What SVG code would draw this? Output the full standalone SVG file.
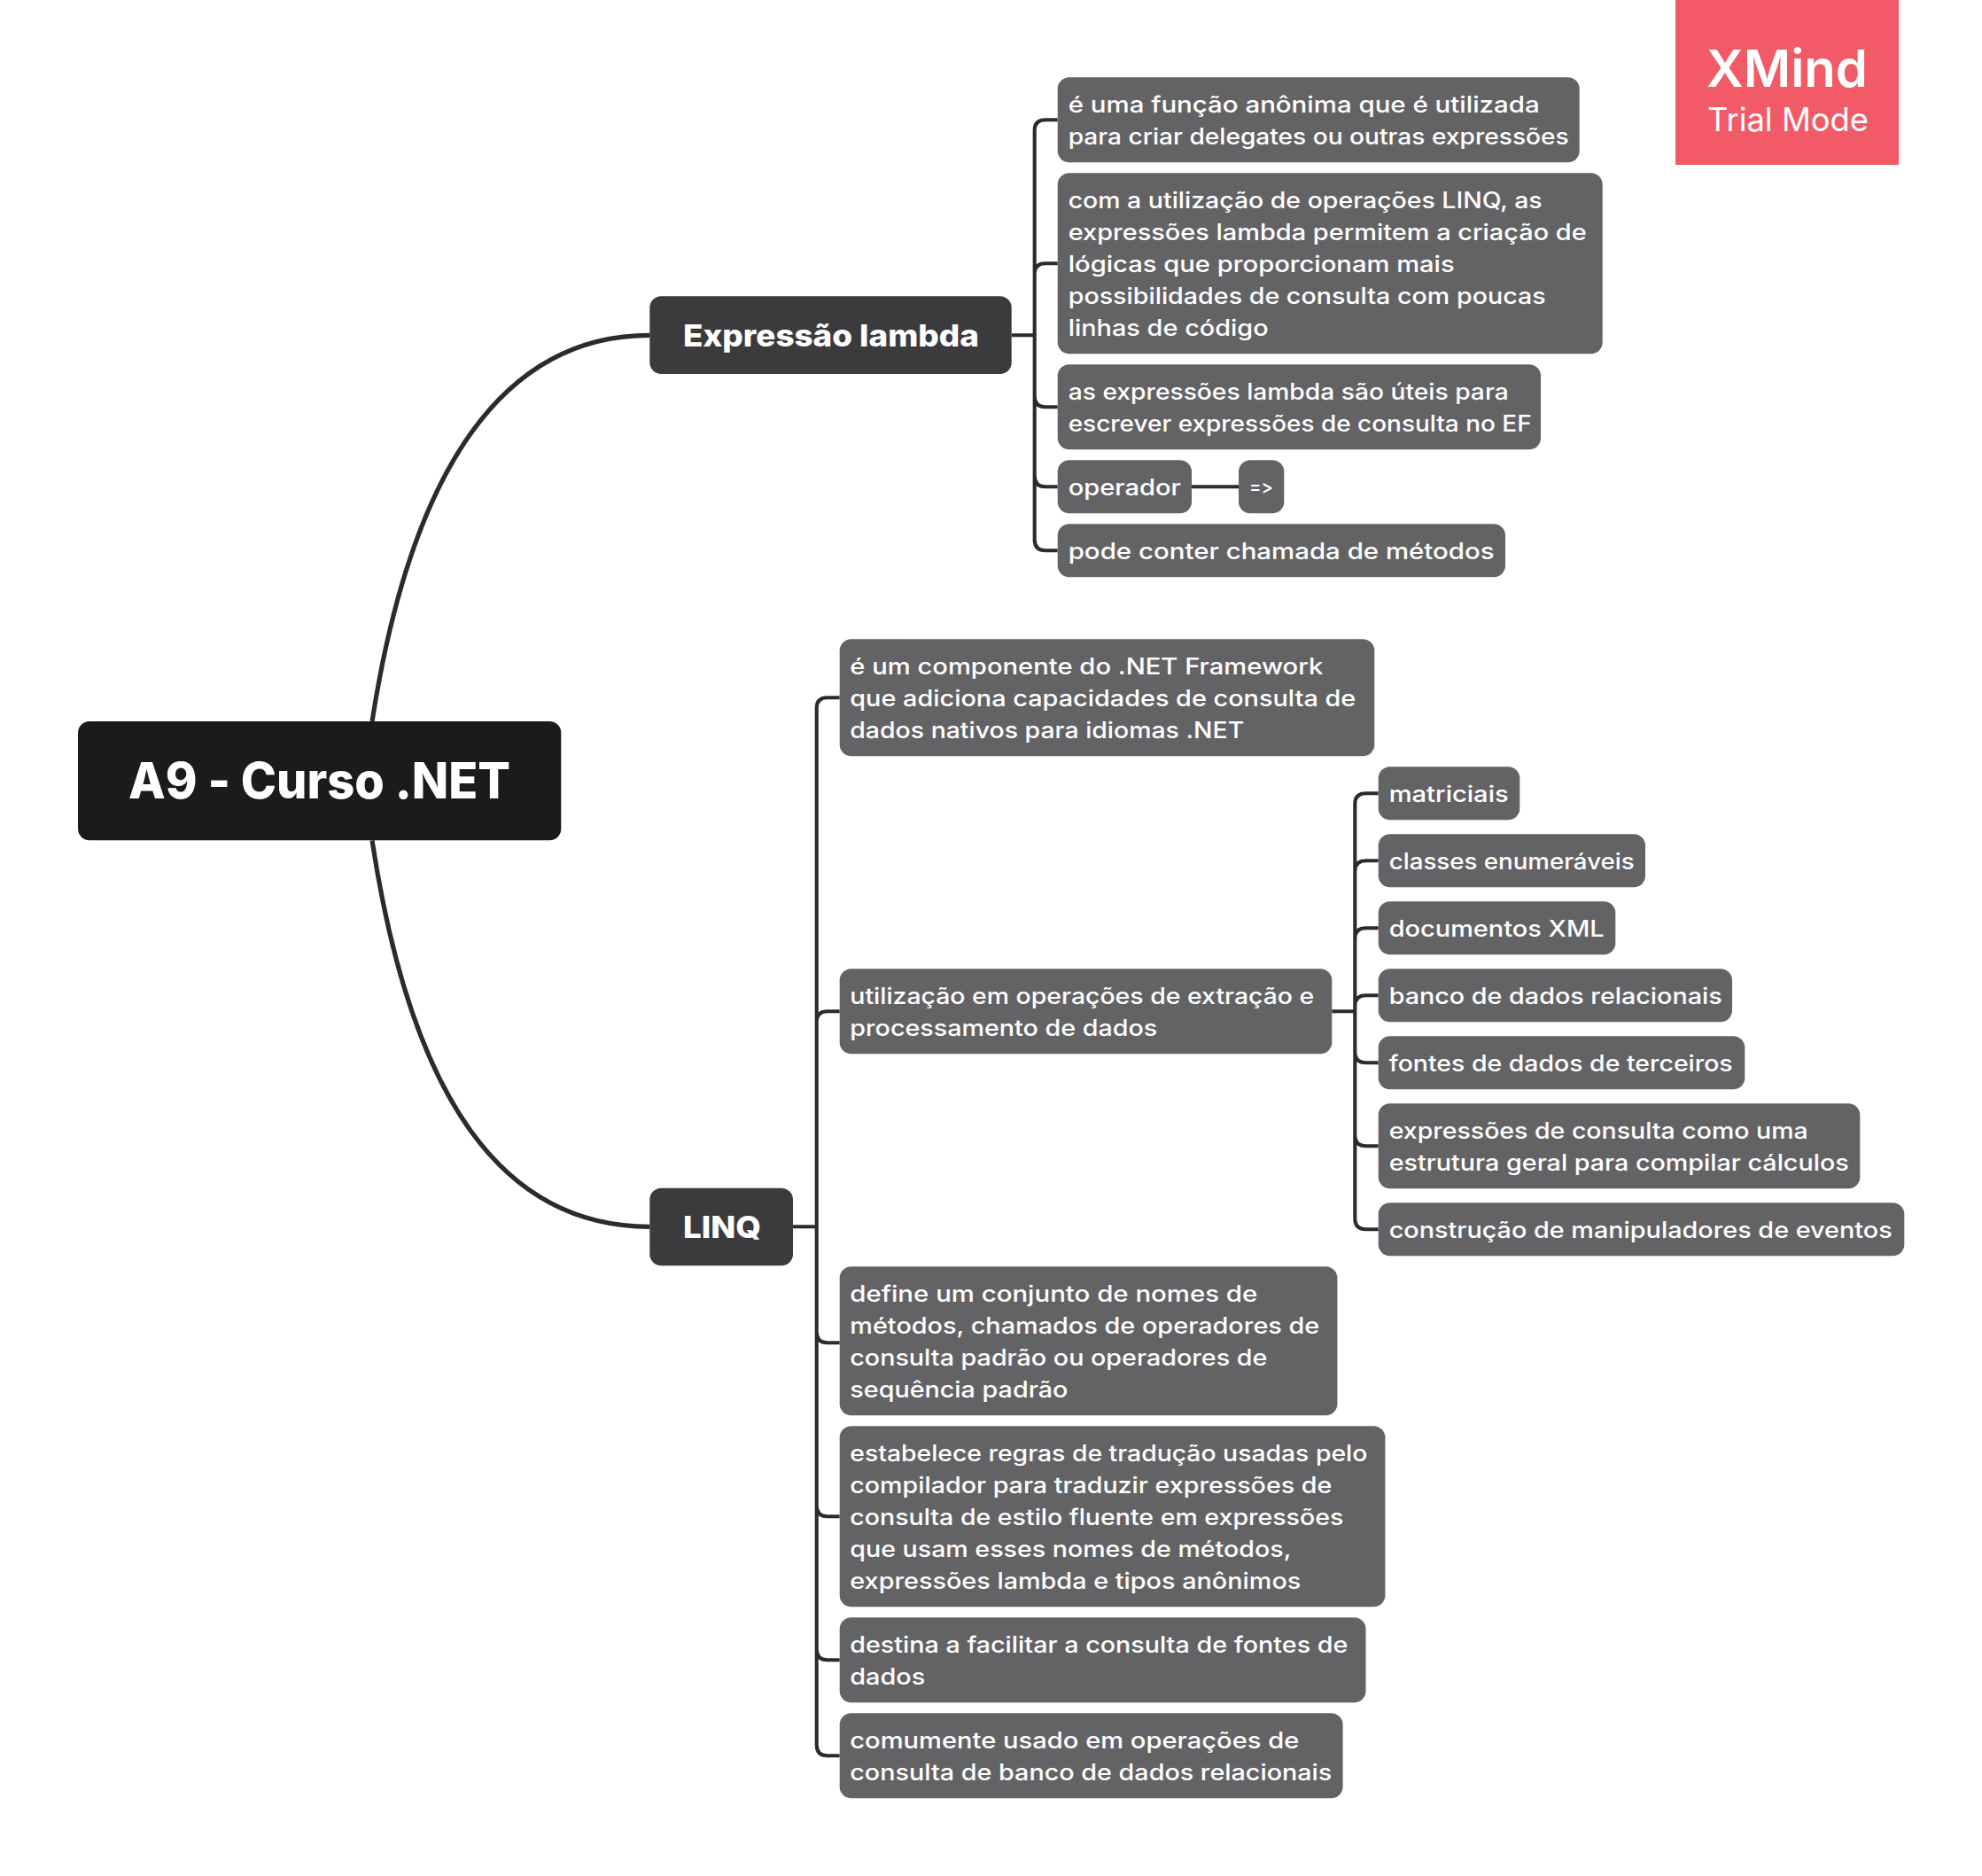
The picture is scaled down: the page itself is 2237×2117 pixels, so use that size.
<svg xmlns="http://www.w3.org/2000/svg" width="2237" height="2117" viewBox="0 0 2237 2117">
<style>
text{font-family:"Inter","Noto Sans","Liberation Sans",sans-serif;fill:#fff;font-variant-ligatures:none;font-feature-settings:"calt" 0,"liga" 0}
.c{fill:#636365}
.t{font-size:25.5px;font-weight:450}
.m{fill:#3b3b3d}
.mt{font-size:34px;font-weight:800}
.conn{fill:none;stroke:#2b2b2d;stroke-width:4.1}
.main{fill:none;stroke:#2b2b2d;stroke-width:5.2}
</style>
<rect width="2237" height="2117" fill="#fff"/>
<g id="connectors">
<path class="main" d="M420 814C465 525 570 378.300 733.300 378.300"/>
<path class="main" d="M420 948.300C465 1245 570 1384.300 733.300 1384.300"/>
<path class="conn" d="M1141.700 378.300H1167.700M1167.700 378.300V147Q1167.700 135.300 1180 135.300H1193.700M1167.700 378.300V309Q1167.700 297.300 1180 297.300H1193.700M1167.700 378.300V447Q1167.700 459.300 1180 459.300H1193.700M1167.700 378.300V537Q1167.700 549.300 1180 549.300H1193.700M1167.700 378.300V609Q1167.700 621.300 1180 621.300H1193.700"/>
<path class="conn" d="M1345 549.300H1398"/>
<path class="conn" d="M895 1384.300H921.700M921.700 1384.300V799Q921.700 787.300 934 787.300H947.700M921.700 1384.300V1153Q921.700 1141.300 934 1141.300H947.700M921.700 1384.300V1503Q921.700 1515.300 934 1515.300H947.700M921.700 1384.300V1699Q921.700 1711.300 934 1711.300H947.700M921.700 1384.300V1861Q921.700 1873.300 934 1873.300H947.700M921.700 1384.300V1969Q921.700 1981.300 934 1981.300H947.700"/>
<path class="conn" d="M1503.300 1141.300H1529.300M1529.300 1141.300V907Q1529.300 895.300 1542 895.300H1555.700M1529.300 1141.300V983Q1529.300 971.300 1542 971.300H1555.700M1529.300 1141.300V1059Q1529.300 1047.300 1542 1047.300H1555.700M1529.300 1141.300V1135Q1529.300 1123.300 1542 1123.300H1555.700M1529.300 1141.300V1187Q1529.300 1199.300 1542 1199.300H1555.700M1529.300 1141.300V1281Q1529.300 1293.300 1542 1293.300H1555.700M1529.300 1141.300V1375Q1529.300 1387.300 1542 1387.300H1555.700"/>
</g>
<g id="root"><rect x="88" y="814" width="545.300" height="134.300" rx="13" fill="#1b1b1d"/><text x="145" y="901" font-size="56" font-weight="800" textLength="431" lengthAdjust="spacingAndGlyphs">A9 - Curso .NET</text></g>
<g id="expressao"><rect class="m" x="733.300" y="334.300" width="408.400" height="87.700" rx="13"/><text class="mt" x="771" y="390.700" textLength="334" lengthAdjust="spacingAndGlyphs">Expressão lambda</text></g>
<g id="linq"><rect class="m" x="733.300" y="1340.700" width="161.700" height="87.500" rx="13"/><text class="mt" x="771" y="1396.700" textLength="88" lengthAdjust="spacingAndGlyphs">LINQ</text></g>

<g id="e1"><rect class="c" x="1193.700" y="87.300" width="589" height="96" rx="13"/><text class="t" x="1205.700" y="127.300" textLength="532" lengthAdjust="spacingAndGlyphs">é uma função anônima que é utilizada</text><text class="t" x="1205.700" y="163.300" textLength="565" lengthAdjust="spacingAndGlyphs">para criar delegates ou outras expressões</text></g>
<g id="e2"><rect class="c" x="1193.700" y="195.300" width="615" height="204" rx="13"/><text class="t" x="1205.700" y="235.300" textLength="535" lengthAdjust="spacingAndGlyphs">com a utilização de operações LINQ, as</text><text class="t" x="1205.700" y="271.300" textLength="585" lengthAdjust="spacingAndGlyphs">expressões lambda permitem a criação de</text><text class="t" x="1205.700" y="307.300" textLength="436" lengthAdjust="spacingAndGlyphs">lógicas que proporcionam mais</text><text class="t" x="1205.700" y="343.300" textLength="539" lengthAdjust="spacingAndGlyphs">possibilidades de consulta com poucas</text><text class="t" x="1205.700" y="379.300" textLength="226" lengthAdjust="spacingAndGlyphs">linhas de código</text></g>
<g id="e3"><rect class="c" x="1193.700" y="411.300" width="545.300" height="96" rx="13"/><text class="t" x="1205.700" y="451.300" textLength="497" lengthAdjust="spacingAndGlyphs">as expressões lambda são úteis para</text><text class="t" x="1205.700" y="487.300" textLength="523" lengthAdjust="spacingAndGlyphs">escrever expressões de consulta no EF</text></g>
<g id="e4"><rect class="c" x="1193.700" y="519.300" width="151.300" height="60" rx="13"/><text class="t" x="1205.700" y="559.300" textLength="127" lengthAdjust="spacingAndGlyphs">operador</text></g>
<g id="e4a"><rect class="c" x="1398" y="519.300" width="51.300" height="60" rx="13"/><text x="1410" y="556.500" font-size="22" font-weight="450" textLength="27" lengthAdjust="spacingAndGlyphs">=&gt;</text></g>
<g id="e5"><rect class="c" x="1193.700" y="591.300" width="505.300" height="60" rx="13"/><text class="t" x="1205.700" y="631.300" textLength="481" lengthAdjust="spacingAndGlyphs">pode conter chamada de métodos</text></g>

<g id="l1"><rect class="c" x="947.700" y="721.300" width="603.600" height="132" rx="13"/><text class="t" x="959.300" y="761.300" textLength="534" lengthAdjust="spacingAndGlyphs">é um componente do .NET Framework</text><text class="t" x="959.300" y="797.300" textLength="571" lengthAdjust="spacingAndGlyphs">que adiciona capacidades de consulta de</text><text class="t" x="959.300" y="833.300" textLength="445" lengthAdjust="spacingAndGlyphs">dados nativos para idiomas .NET</text></g>
<g id="l2"><rect class="c" x="947.700" y="1093.300" width="555.600" height="96" rx="13"/><text class="t" x="959.300" y="1133.300" textLength="524" lengthAdjust="spacingAndGlyphs">utilização em operações de extração e</text><text class="t" x="959.300" y="1169.300" textLength="347" lengthAdjust="spacingAndGlyphs">processamento de dados</text></g>
<g id="l3"><rect class="c" x="947.700" y="1429.300" width="561.700" height="168" rx="13"/><text class="t" x="959.300" y="1469.300" textLength="460" lengthAdjust="spacingAndGlyphs">define um conjunto de nomes de</text><text class="t" x="959.300" y="1505.300" textLength="530" lengthAdjust="spacingAndGlyphs">métodos, chamados de operadores de</text><text class="t" x="959.300" y="1541.300" textLength="471" lengthAdjust="spacingAndGlyphs">consulta padrão ou operadores de</text><text class="t" x="959.300" y="1577.300" textLength="246" lengthAdjust="spacingAndGlyphs">sequência padrão</text></g>
<g id="l4"><rect class="c" x="947.700" y="1609.300" width="615.700" height="204" rx="13"/><text class="t" x="959.300" y="1649.300" textLength="584" lengthAdjust="spacingAndGlyphs">estabelece regras de tradução usadas pelo</text><text class="t" x="959.300" y="1685.300" textLength="544" lengthAdjust="spacingAndGlyphs">compilador para traduzir expressões de</text><text class="t" x="959.300" y="1721.300" textLength="557" lengthAdjust="spacingAndGlyphs">consulta de estilo fluente em expressões</text><text class="t" x="959.300" y="1757.300" textLength="498" lengthAdjust="spacingAndGlyphs">que usam esses nomes de métodos,</text><text class="t" x="959.300" y="1793.300" textLength="509" lengthAdjust="spacingAndGlyphs">expressões lambda e tipos anônimos</text></g>
<g id="l5"><rect class="c" x="947.700" y="1825.300" width="593.800" height="96" rx="13"/><text class="t" x="959.300" y="1865.300" textLength="562" lengthAdjust="spacingAndGlyphs">destina a facilitar a consulta de fontes de</text><text class="t" x="959.300" y="1901.300" textLength="85" lengthAdjust="spacingAndGlyphs">dados</text></g>
<g id="l6"><rect class="c" x="947.700" y="1933.300" width="567.900" height="96" rx="13"/><text class="t" x="959.300" y="1973.300" textLength="507" lengthAdjust="spacingAndGlyphs">comumente usado em operações de</text><text class="t" x="959.300" y="2009.300" textLength="544" lengthAdjust="spacingAndGlyphs">consulta de banco de dados relacionais</text></g>

<g id="s1"><rect class="c" x="1555.700" y="865.300" width="159.600" height="60" rx="13"/><text class="t" x="1567.700" y="905.300" textLength="135" lengthAdjust="spacingAndGlyphs">matriciais</text></g>
<g id="s2"><rect class="c" x="1555.700" y="941.300" width="301.300" height="60" rx="13"/><text class="t" x="1567.700" y="981.300" textLength="277" lengthAdjust="spacingAndGlyphs">classes enumeráveis</text></g>
<g id="s3"><rect class="c" x="1555.700" y="1017.300" width="267.600" height="60" rx="13"/><text class="t" x="1567.700" y="1057.300" textLength="243" lengthAdjust="spacingAndGlyphs">documentos XML</text></g>
<g id="s4"><rect class="c" x="1555.700" y="1093.300" width="399.300" height="60" rx="13"/><text class="t" x="1567.700" y="1133.300" textLength="376" lengthAdjust="spacingAndGlyphs">banco de dados relacionais</text></g>
<g id="s5"><rect class="c" x="1555.700" y="1169.300" width="413.600" height="60" rx="13"/><text class="t" x="1567.700" y="1209.300" textLength="388" lengthAdjust="spacingAndGlyphs">fontes de dados de terceiros</text></g>
<g id="s6"><rect class="c" x="1555.700" y="1245.300" width="543.600" height="96" rx="13"/><text class="t" x="1567.700" y="1285.300" textLength="473" lengthAdjust="spacingAndGlyphs">expressões de consulta como uma</text><text class="t" x="1567.700" y="1321.300" textLength="519" lengthAdjust="spacingAndGlyphs">estrutura geral para compilar cálculos</text></g>
<g id="s7"><rect class="c" x="1555.700" y="1357.300" width="593.600" height="60" rx="13"/><text class="t" x="1567.700" y="1397.300" textLength="568" lengthAdjust="spacingAndGlyphs">construção de manipuladores de eventos</text></g>

<g id="watermark"><rect x="1891" y="0" width="252" height="186" fill="#f25a67"/><text x="1926" y="98" font-size="58" font-weight="600" textLength="182" lengthAdjust="spacingAndGlyphs">XMind</text><text x="1927" y="148" font-size="37" font-weight="400" textLength="182" lengthAdjust="spacingAndGlyphs">Trial Mode</text></g>
</svg>
